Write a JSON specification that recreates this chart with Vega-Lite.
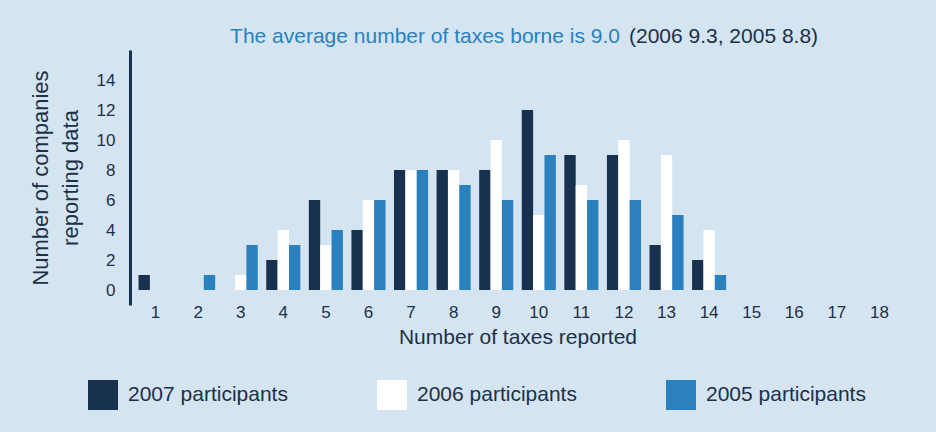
{
  "$schema": "https://vega.github.io/schema/vega-lite/v6.json",
  "width": 775,
  "height": 255,
  "autosize": {"type": "none"},
  "padding": {"left": 130, "top": 50, "right": 31, "bottom": 127},
  "background": "#d4e4f1",
  "config": {
    "view": {"stroke": null},
    "font": "Liberation Sans",
    "axis": {"labelColor": "#1c3048", "titleColor": "#1c3048", "labelFont": "Liberation Sans", "titleFont": "Liberation Sans", "titleFontWeight": "normal", "grid": false},
    "axisY": {"values": [0,2,4,6,8,10,12,14], "labelOverlap": false, "labelFontSize": 17, "labelPadding": 15, "ticks": false, "tickSize": 0, "domainColor": "#17314f", "domainWidth": 3, "titleFontSize": 22, "titleLineHeight": 30, "titlePadding": 14}
  },
  "datasets": {
    "bars": [
      {"taxes": 1, "series": "2007 participants", "companies": 1},
      {"taxes": 4, "series": "2007 participants", "companies": 2},
      {"taxes": 5, "series": "2007 participants", "companies": 6},
      {"taxes": 6, "series": "2007 participants", "companies": 4},
      {"taxes": 7, "series": "2007 participants", "companies": 8},
      {"taxes": 8, "series": "2007 participants", "companies": 8},
      {"taxes": 9, "series": "2007 participants", "companies": 8},
      {"taxes": 10, "series": "2007 participants", "companies": 12},
      {"taxes": 11, "series": "2007 participants", "companies": 9},
      {"taxes": 12, "series": "2007 participants", "companies": 9},
      {"taxes": 13, "series": "2007 participants", "companies": 3},
      {"taxes": 14, "series": "2007 participants", "companies": 2},
      {"taxes": 3, "series": "2006 participants", "companies": 1},
      {"taxes": 4, "series": "2006 participants", "companies": 4},
      {"taxes": 5, "series": "2006 participants", "companies": 3},
      {"taxes": 6, "series": "2006 participants", "companies": 6},
      {"taxes": 7, "series": "2006 participants", "companies": 8},
      {"taxes": 8, "series": "2006 participants", "companies": 8},
      {"taxes": 9, "series": "2006 participants", "companies": 10},
      {"taxes": 10, "series": "2006 participants", "companies": 5},
      {"taxes": 11, "series": "2006 participants", "companies": 7},
      {"taxes": 12, "series": "2006 participants", "companies": 10},
      {"taxes": 13, "series": "2006 participants", "companies": 9},
      {"taxes": 14, "series": "2006 participants", "companies": 4},
      {"taxes": 2, "series": "2005 participants", "companies": 1},
      {"taxes": 3, "series": "2005 participants", "companies": 3},
      {"taxes": 4, "series": "2005 participants", "companies": 3},
      {"taxes": 5, "series": "2005 participants", "companies": 4},
      {"taxes": 6, "series": "2005 participants", "companies": 6},
      {"taxes": 7, "series": "2005 participants", "companies": 8},
      {"taxes": 8, "series": "2005 participants", "companies": 7},
      {"taxes": 9, "series": "2005 participants", "companies": 6},
      {"taxes": 10, "series": "2005 participants", "companies": 9},
      {"taxes": 11, "series": "2005 participants", "companies": 6},
      {"taxes": 12, "series": "2005 participants", "companies": 6},
      {"taxes": 13, "series": "2005 participants", "companies": 5},
      {"taxes": 14, "series": "2005 participants", "companies": 1}
    ]
  },
  "layer": [
    {
      "data": {"name": "bars"},
      "mark": {"type": "bar"},
      "encoding": {
        "x": {
          "field": "taxes",
          "type": "ordinal",
          "scale": {"domain": [1,2,3,4,5,6,7,8,9,10,11,12,13,14,15,16,17,18], "paddingInner": 0.2, "paddingOuter": 0.2},
          "axis": {"title": "Number of taxes reported", "titleFontSize": 21, "titlePadding": 6, "labelAngle": 0, "labelFontSize": 17, "labelPadding": -1, "tickSize": 0, "ticks": false, "domain": false, "labelOverlap": false}
        },
        "xOffset": {
          "field": "series",
          "type": "nominal",
          "scale": {"domain": ["2007 participants", "2006 participants", "2005 participants"], "paddingInner": 0, "paddingOuter": 0}
        },
        "y": {
          "field": "companies",
          "type": "quantitative",
          "scale": {"domain": [-1, 16], "nice": false, "zero": false},
          "axis": {"title": ["Number of companies", "reporting data"], "values": [0,2,4,6,8,10,12,14], "labelOverlap": false}
        },
        "y2": {"datum": 0},
        "color": {
          "field": "series",
          "type": "nominal",
          "scale": {"domain": ["2007 participants", "2006 participants", "2005 participants"], "range": ["#17314f", "#ffffff", "#2b81bd"]},
          "legend": {"title": null, "orient": "none", "legendX": -42, "legendY": 330, "direction": "horizontal", "symbolType": "square", "symbolSize": 900, "symbolStrokeWidth": 0, "symbolOpacity": 1, "labelFontSize": 21, "labelColor": "#1c3048", "labelOffset": 10, "columnPadding": 89, "padding": 0, "labelLimit": 300}
        }
      }
    },
    {
      "mark": {"type": "rule", "color": "#17314f", "strokeWidth": 3},
      "encoding": {"y": {"datum": 0, "type": "quantitative", "axis": {"title": ["Number of companies", "reporting data"], "values": [0,2,4,6,8,10,12,14], "labelOverlap": false}}}
    },
    {
      "data": {"values": [{"label": "The average number of taxes borne is 9.0"}]},
      "mark": {"type": "text", "align": "right", "baseline": "alphabetic", "dx": -4, "fontSize": 21, "color": "#2b81bd"},
      "encoding": {"x": {"datum": 12, "type": "ordinal"}, "y": {"datum": 16.47, "type": "quantitative", "axis": {"title": ["Number of companies", "reporting data"], "values": [0,2,4,6,8,10,12,14], "labelOverlap": false}}, "text": {"field": "label"}}
    },
    {
      "data": {"values": [{"label": "(2006 9.3, 2005 8.8)"}]},
      "mark": {"type": "text", "align": "left", "baseline": "alphabetic", "dx": 5, "fontSize": 21, "color": "#1c3048"},
      "encoding": {"x": {"datum": 12, "type": "ordinal"}, "y": {"datum": 16.47, "type": "quantitative", "axis": {"title": ["Number of companies", "reporting data"], "values": [0,2,4,6,8,10,12,14], "labelOverlap": false}}, "text": {"field": "label"}}
    }
  ]
}
